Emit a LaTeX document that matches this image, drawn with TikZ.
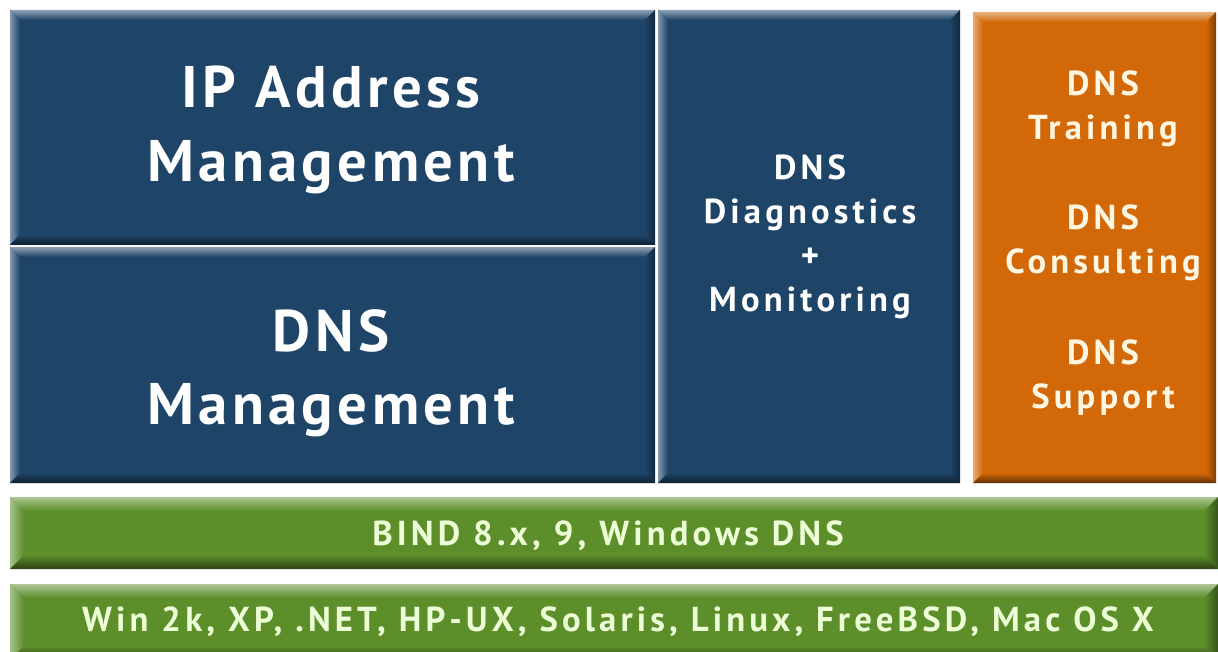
\documentclass[tikz,border=0pt]{standalone}
\usepackage{fontspec}
\setmainfont{PT Sans}[LetterSpace=7.5]
\newfontfamily\widefont{PT Sans}[LetterSpace=12]
\usepackage{tikz}

\definecolor{navy}{RGB}{30,68,104}
\definecolor{rust}{RGB}{210,104,8}
\definecolor{leaf}{RGB}{92,142,42}
\definecolor{cream}{RGB}{255,246,226}
\definecolor{mint}{RGB}{236,255,214}

% bevelled panel: x1, y1, x2, y2, colour, depth
\newcommand{\bevelbox}[6]{%
  \fill[#5] (#1,#2) rectangle (#3,#4);
  \shade[top color=#5!50!white, bottom color=#5] (#1,#2) -- (#3,#2) -- (#3-#6,#2+#6) -- (#1+#6,#2+#6) -- cycle;
  \shade[left color=#5!55!white, right color=#5] (#1,#2) -- (#1+#6,#2+#6) -- (#1+#6,#4-#6) -- (#1,#4) -- cycle;
  \shade[top color=#5, bottom color=#5!45!black] (#1,#4) -- (#1+#6,#4-#6) -- (#3-#6,#4-#6) -- (#3,#4) -- cycle;
  \shade[left color=#5, right color=#5!60!black] (#3,#2) -- (#3-#6,#2+#6) -- (#3-#6,#4-#6) -- (#3,#4) -- cycle;
}

\tikzset{
  bigtxt/.style={text=white, align=center, inner sep=0pt, font=\fontsize{44}{55}\selectfont\bfseries},
  midtxt/.style={text=white, align=center, inner sep=0pt, font=\widefont\fontsize{26}{33}\selectfont\bfseries},
  sidetxt/.style={midtxt, text=cream},
  bartxt/.style={text=mint, inner sep=0pt, font=\widefont\fontsize{26}{30}\selectfont\bfseries}
}

\begin{document}
\begin{tikzpicture}[x=0.75pt,y=0.75pt,yscale=-1,xscale=1]
\useasboundingbox (0,0) rectangle (1218,652);
\fill[white] (0,0) rectangle (1218,652);

%Shape: Rectangle [IP address management]
\bevelbox{10}{10}{655}{245}{navy}{10}
%Shape: Rectangle [DNS management]
\bevelbox{10}{247}{655}{483}{navy}{10}
%Shape: Rectangle [diagnostics]
\bevelbox{658}{10}{960}{483}{navy}{10}
%Shape: Rectangle [services]
\bevelbox{973}{12}{1216}{483}{rust}{10}
%Shape: Rectangle [BIND bar]
\bevelbox{10}{497}{1218}{569}{leaf}{14}
%Shape: Rectangle [platform bar]
\bevelbox{10}{584}{1218}{660}{leaf}{14}

% Text Node
\node[bigtxt] (ipam) at (331,130) {IP Address\\Management};
% Text Node
\node[bigtxt] (dnsm) at (331,373) {DNS\\Management};
% Text Node
\node[midtxt] (diag) at (810,237) {DNS\\Diagnostics\\+\\Monitoring};
% Text Node
\node[sidetxt] (train) at (1103,109) {DNS\\Training};
% Text Node
\node[sidetxt] (consult) at (1103,243) {DNS\\Consulting};
% Text Node
\node[sidetxt] (support) at (1103,378) {DNS\\Support};
% Text Node
\node[bartxt] (bind) at (608,536) {BIND 8.x, 9, Windows DNS};
% Text Node
\node[bartxt] (os) at (618,622) {Win 2k, XP, .NET, HP-UX, Solaris, Linux, FreeBSD, Mac OS X};

\end{tikzpicture}
\end{document}
